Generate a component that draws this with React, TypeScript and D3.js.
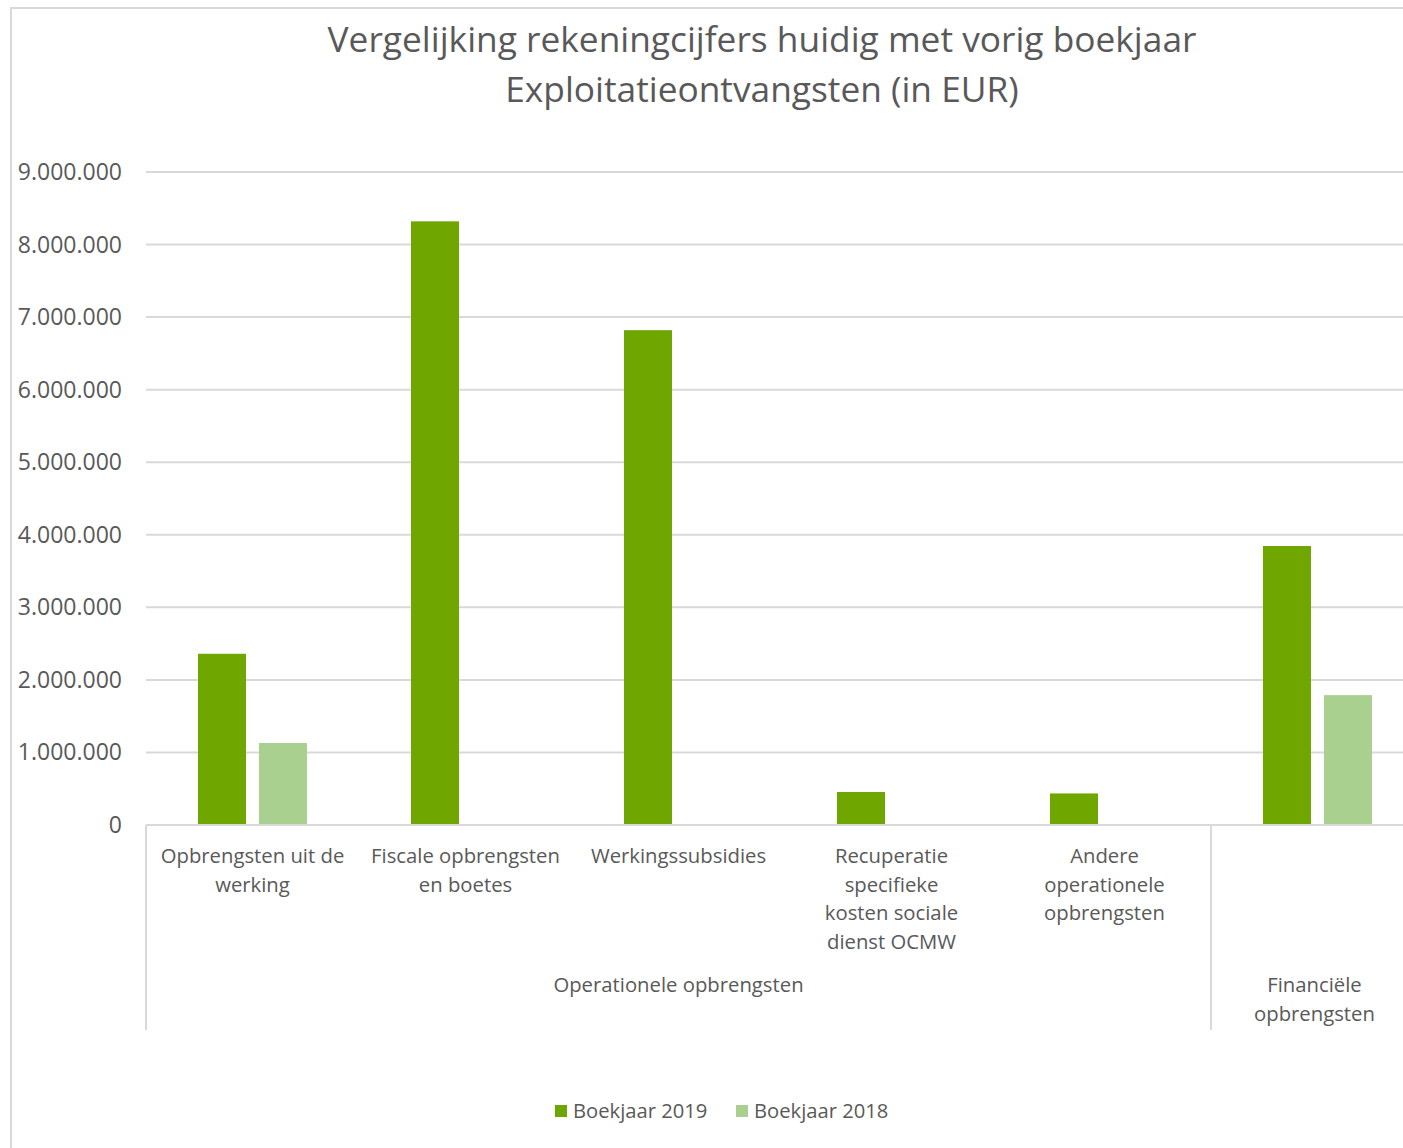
import React from "react";
import * as d3 from "d3";

const categories = [
  "Opbrengsten uit de werking",
  "Fiscale opbrengsten en boetes",
  "Werkingssubsidies",
  "Recuperatie specifieke kosten sociale dienst OCMW",
  "Andere operationele opbrengsten",
  "Financiële opbrengsten",
];
const categoryLines = [
  ["Opbrengsten uit de", "werking"],
  ["Fiscale opbrengsten", "en boetes"],
  ["Werkingssubsidies"],
  ["Recuperatie", "specifieke", "kosten sociale", "dienst OCMW"],
  ["Andere", "operationele", "opbrengsten"],
  [],
];
const groups = [
  { name: ["Operationele opbrengsten"], from: 0, to: 4 },
  { name: ["Financiële", "opbrengsten"], from: 5, to: 5 },
];
const seriesNames = ["Boekjaar 2019", "Boekjaar 2018"];
const values2019 = [2360000, 8320000, 6820000, 455000, 435000, 3845000];
const values2018 = [1130000, null, null, null, null, 1790000];
const yTicks = [0, 1000000, 2000000, 3000000, 4000000, 5000000, 6000000, 7000000, 8000000, 9000000];
const colors = ["#70a600", "#a9d08e"];

const W = 1403;
const H = 1148;
const FONT = "'Open Sans', sans-serif";
const TXT = "#595959";
const GRID = "#d9d9d9";

export default function App() {
  const plotLeft = 146;
  const catW = 213;
  const x = d3.scaleBand<string>().domain(categories).range([plotLeft, plotLeft + catW * categories.length]);
  const xs = d3.scaleBand<string>().domain(seriesNames).range([52, 161]).paddingInner(0.213);
  const y = d3.scaleLinear().domain([0, 9000000]).range([825, 172]);
  const fmt = (v: number) => d3.format(",")(v).replace(/,/g, ".");
  const seriesData = [values2019, values2018];
  const plotRight = x.range()[1];

  return (
    <svg width={W} height={H} style={{ position: "absolute", left: 0, top: 0, background: "#fff" }} fontFamily={FONT}>
      <rect x={11} y={8} width={W + 50} height={H + 50} fill="#fff" stroke={GRID} strokeWidth={2} />
      <text x={762} y={52} textAnchor="middle" fontSize={35.3} fill={TXT}>
        Vergelijking rekeningcijfers huidig met vorig boekjaar
      </text>
      <text x={762} y={102} textAnchor="middle" fontSize={35.3} fill={TXT}>
        Exploitatieontvangsten (in EUR)
      </text>
      {yTicks.map((t) => (
        <g key={t}>
          <line x1={plotLeft} x2={plotRight} y1={y(t)} y2={y(t)} stroke={GRID} strokeWidth={2} />
          <text x={122} y={y(t) + 8} textAnchor="end" fontSize={23} fill={TXT}>
            {fmt(t)}
          </text>
        </g>
      ))}
      {categories.map((c, i) =>
        seriesNames.map((s, j) => {
          const v = seriesData[j][i];
          if (v == null) return null;
          return (
            <rect
              key={c + s}
              x={(x(c) as number) + (xs(s) as number)}
              y={y(v)}
              width={xs.bandwidth()}
              height={y(0) - y(v)}
              fill={colors[j]}
            />
          );
        })
      )}
      <line x1={plotLeft} x2={plotRight} y1={y(0)} y2={y(0)} stroke={GRID} strokeWidth={2} />
      {[x(categories[0]) as number, x(categories[5]) as number].map((xx, i) => (
        <line key={i} x1={xx} x2={xx} y1={y(0)} y2={1030} stroke={GRID} strokeWidth={2} />
      ))}
      {categories.map((c, i) =>
        categoryLines[i].map((l, k) => (
          <text key={c + k} x={(x(c) as number) + catW / 2} y={863 + k * 28.5} textAnchor="middle" fontSize={20.3} fill={TXT}>
            {l}
          </text>
        ))
      )}
      {groups.map((g) => {
        const cx = ((x(categories[g.from]) as number) + (x(categories[g.to]) as number) + catW) / 2;
        return g.name.map((l, k) => (
          <text key={l} x={cx - (g.from === 5 ? 3 : 0)} y={992 + k * 29} textAnchor="middle" fontSize={20.3} fill={TXT}>
            {l}
          </text>
        ));
      })}
      {seriesNames.map((s, j) => {
        const lx = [555, 736][j];
        return (
          <g key={s}>
            <rect x={lx} y={1105} width={12} height={12} fill={colors[j]} />
            <text x={lx + 18} y={1118} fontSize={20.2} fill={TXT}>
              {s}
            </text>
          </g>
        );
      })}
    </svg>
  );
}
